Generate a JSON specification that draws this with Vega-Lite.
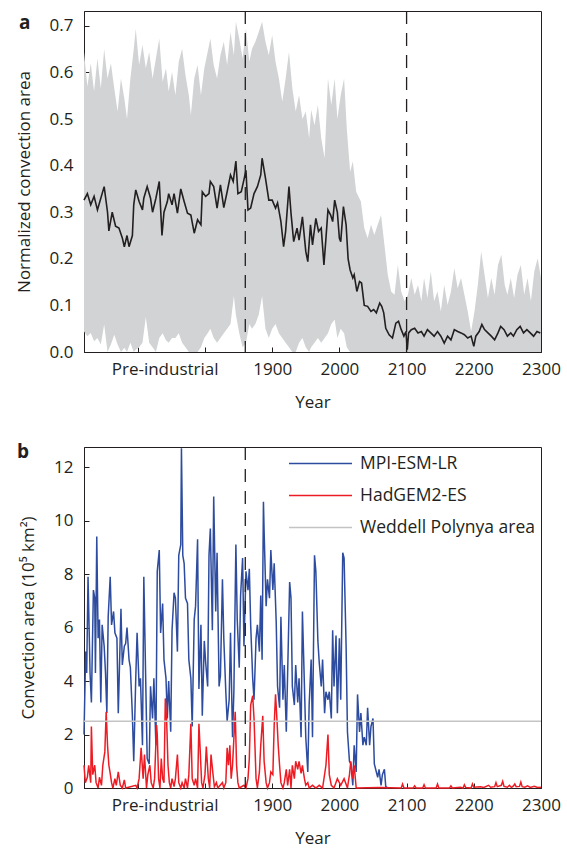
{
  "$schema": "https://vega.github.io/schema/vega-lite/v6.json",
  "background": "white",
  "padding": {"left": 14, "top": 9, "right": 5, "bottom": 0},
  "spacing": 31,
  "resolve": {"scale": {"color": "independent"}, "legend": {"color": "independent"}},
  "config": {
    "font": "Open Sans",
    "view": {"stroke": "#231f20", "strokeWidth": 1},
    "axis": {"grid": false, "labelFontSize": 17, "titleFontSize": 17, "titleFontWeight": "normal", "labelColor": "#231f20", "titleColor": "#231f20", "domainColor": "#231f20", "tickColor": "#231f20", "labelFont": "Open Sans", "titleFont": "Open Sans"}
  },
  "datasets": {
    "band": [
      {"year":1620,"lo":0.044,"hi":0.644},{"year":1625,"lo":0.034,"hi":0.57},{"year":1630,"lo":0.041,"hi":0.62},{"year":1635,"lo":0.023,"hi":0.56},{"year":1640,"lo":0.03,"hi":0.63},{"year":1645,"lo":0.016,"hi":0.566},{"year":1650,"lo":0.059,"hi":0.65},{"year":1655,"lo":0,"hi":0.587},{"year":1660,"lo":0.016,"hi":0.62},{"year":1665,"lo":0.037,"hi":0.566},{"year":1670,"lo":0.016,"hi":0.516},{"year":1675,"lo":0,"hi":0.587},{"year":1680,"lo":0.009,"hi":0.544},{"year":1684,"lo":0,"hi":0.5},{"year":1689,"lo":0.02,"hi":0.587},{"year":1694,"lo":0,"hi":0.65},{"year":1697,"lo":0.005,"hi":0.694},{"year":1702,"lo":0.01,"hi":0.616},{"year":1707,"lo":0.02,"hi":0.659},{"year":1712,"lo":0.075,"hi":0.609},{"year":1717,"lo":0.02,"hi":0.644},{"year":1722,"lo":0.01,"hi":0.587},{"year":1727,"lo":0,"hi":0.63},{"year":1732,"lo":0.03,"hi":0.673},{"year":1737,"lo":0.04,"hi":0.58},{"year":1742,"lo":0.025,"hi":0.609},{"year":1746,"lo":0.02,"hi":0.559},{"year":1751,"lo":0.03,"hi":0.601},{"year":1756,"lo":0.03,"hi":0.551},{"year":1761,"lo":0.04,"hi":0.623},{"year":1766,"lo":0.02,"hi":0.651},{"year":1771,"lo":0.01,"hi":0.594},{"year":1776,"lo":0,"hi":0.551},{"year":1779,"lo":0,"hi":0.509},{"year":1784,"lo":0,"hi":0.587},{"year":1789,"lo":0,"hi":0.616},{"year":1794,"lo":0.01,"hi":0.551},{"year":1799,"lo":0.03,"hi":0.609},{"year":1804,"lo":0.04,"hi":0.644},{"year":1808,"lo":0.05,"hi":0.673},{"year":1813,"lo":0.03,"hi":0.616},{"year":1818,"lo":0.02,"hi":0.587},{"year":1823,"lo":0.03,"hi":0.637},{"year":1828,"lo":0.04,"hi":0.666},{"year":1833,"lo":0.05,"hi":0.616},{"year":1838,"lo":0.06,"hi":0.687},{"year":1843,"lo":0.12,"hi":0.637},{"year":1846,"lo":0.08,"hi":0.709},{"year":1851,"lo":0.04,"hi":0.673},{"year":1856,"lo":0.01,"hi":0.63},{"year":1861,"lo":0.02,"hi":0.694},{"year":1866,"lo":0.06,"hi":0.623},{"year":1870,"lo":0.05,"hi":0.651},{"year":1875,"lo":0.06,"hi":0.666},{"year":1880,"lo":0.08,"hi":0.687},{"year":1885,"lo":0.12,"hi":0.709},{"year":1890,"lo":0.05,"hi":0.666},{"year":1895,"lo":0.03,"hi":0.637},{"year":1900,"lo":0.05,"hi":0.68},{"year":1905,"lo":0.06,"hi":0.623},{"year":1910,"lo":0.04,"hi":0.587},{"year":1915,"lo":0.03,"hi":0.537},{"year":1920,"lo":0.02,"hi":0.587},{"year":1925,"lo":0.01,"hi":0.644},{"year":1930,"lo":0,"hi":0.566},{"year":1935,"lo":0,"hi":0.516},{"year":1940,"lo":0.02,"hi":0.551},{"year":1945,"lo":0.03,"hi":0.5},{"year":1950,"lo":0.01,"hi":0.516},{"year":1955,"lo":0,"hi":0.459},{"year":1958,"lo":0.01,"hi":0.52},{"year":1963,"lo":0.02,"hi":0.487},{"year":1968,"lo":0.03,"hi":0.53},{"year":1973,"lo":0.02,"hi":0.459},{"year":1978,"lo":0.03,"hi":0.416},{"year":1983,"lo":0.04,"hi":0.587},{"year":1988,"lo":0.06,"hi":0.53},{"year":1993,"lo":0.07,"hi":0.587},{"year":1997,"lo":0.03,"hi":0.5},{"year":2002,"lo":0.05,"hi":0.551},{"year":2007,"lo":0.04,"hi":0.587},{"year":2011,"lo":0.01,"hi":0.48},{"year":2016,"lo":0,"hi":0.387},{"year":2020,"lo":0,"hi":0.409},{"year":2025,"lo":0,"hi":0.344},{"year":2032,"lo":0,"hi":0.323},{"year":2037,"lo":0,"hi":0.266},{"year":2042,"lo":0,"hi":0.244},{"year":2047,"lo":0,"hi":0.273},{"year":2052,"lo":0,"hi":0.251},{"year":2057,"lo":0,"hi":0.273},{"year":2062,"lo":0,"hi":0.294},{"year":2067,"lo":0,"hi":0.23},{"year":2072,"lo":0,"hi":0.166},{"year":2077,"lo":0,"hi":0.13},{"year":2082,"lo":0,"hi":0.123},{"year":2087,"lo":0,"hi":0.187},{"year":2092,"lo":0,"hi":0.13},{"year":2097,"lo":0,"hi":0.109},{"year":2102,"lo":0,"hi":0.123},{"year":2107,"lo":0,"hi":0.159},{"year":2112,"lo":0,"hi":0.123},{"year":2117,"lo":0,"hi":0.144},{"year":2122,"lo":0,"hi":0.109},{"year":2126,"lo":0,"hi":0.159},{"year":2131,"lo":0,"hi":0.116},{"year":2136,"lo":0,"hi":0.173},{"year":2141,"lo":0,"hi":0.109},{"year":2146,"lo":0,"hi":0.13},{"year":2151,"lo":0,"hi":0.087},{"year":2156,"lo":0,"hi":0.144},{"year":2161,"lo":0,"hi":0.101},{"year":2166,"lo":0,"hi":0.13},{"year":2171,"lo":0,"hi":0.18},{"year":2176,"lo":0,"hi":0.137},{"year":2181,"lo":0,"hi":0.159},{"year":2186,"lo":0,"hi":0.123},{"year":2191,"lo":0,"hi":0.087},{"year":2196,"lo":0,"hi":0.044},{"year":2201,"lo":0,"hi":0.087},{"year":2206,"lo":0,"hi":0.144},{"year":2211,"lo":0,"hi":0.216},{"year":2216,"lo":0,"hi":0.166},{"year":2221,"lo":0,"hi":0.116},{"year":2226,"lo":0,"hi":0.159},{"year":2231,"lo":0,"hi":0.123},{"year":2236,"lo":0,"hi":0.187},{"year":2241,"lo":0,"hi":0.209},{"year":2246,"lo":0,"hi":0.144},{"year":2250,"lo":0,"hi":0.123},{"year":2255,"lo":0,"hi":0.159},{"year":2260,"lo":0,"hi":0.116},{"year":2265,"lo":0,"hi":0.166},{"year":2270,"lo":0,"hi":0.187},{"year":2275,"lo":0,"hi":0.123},{"year":2280,"lo":0,"hi":0.159},{"year":2285,"lo":0,"hi":0.109},{"year":2290,"lo":0,"hi":0.173},{"year":2295,"lo":0,"hi":0.201},{"year":2300,"lo":0,"hi":0.159}
    ],
    "mean": [
      {"year":1620,"v":0.326},{"year":1625,"v":0.34},{"year":1630,"v":0.316},{"year":1635,"v":0.334},{"year":1640,"v":0.305},{"year":1645,"v":0.33},{"year":1650,"v":0.355},{"year":1655,"v":0.3},{"year":1657,"v":0.26},{"year":1662,"v":0.3},{"year":1667,"v":0.27},{"year":1672,"v":0.266},{"year":1677,"v":0.245},{"year":1680,"v":0.226},{"year":1684,"v":0.25},{"year":1687,"v":0.226},{"year":1692,"v":0.25},{"year":1694,"v":0.316},{"year":1697,"v":0.348},{"year":1702,"v":0.323},{"year":1707,"v":0.305},{"year":1709,"v":0.33},{"year":1714,"v":0.355},{"year":1719,"v":0.33},{"year":1722,"v":0.3},{"year":1727,"v":0.33},{"year":1732,"v":0.366},{"year":1736,"v":0.25},{"year":1739,"v":0.3},{"year":1744,"v":0.323},{"year":1746,"v":0.34},{"year":1751,"v":0.316},{"year":1754,"v":0.34},{"year":1759,"v":0.298},{"year":1764,"v":0.35},{"year":1769,"v":0.323},{"year":1774,"v":0.298},{"year":1779,"v":0.294},{"year":1784,"v":0.255},{"year":1789,"v":0.284},{"year":1794,"v":0.273},{"year":1796,"v":0.344},{"year":1801,"v":0.334},{"year":1806,"v":0.34},{"year":1808,"v":0.366},{"year":1813,"v":0.355},{"year":1818,"v":0.309},{"year":1823,"v":0.359},{"year":1828,"v":0.31},{"year":1833,"v":0.344},{"year":1838,"v":0.38},{"year":1842,"v":0.366},{"year":1846,"v":0.41},{"year":1849,"v":0.34},{"year":1854,"v":0.344},{"year":1858,"v":0.37},{"year":1861,"v":0.39},{"year":1864,"v":0.305},{"year":1868,"v":0.309},{"year":1873,"v":0.34},{"year":1878,"v":0.355},{"year":1883,"v":0.38},{"year":1885,"v":0.416},{"year":1890,"v":0.373},{"year":1895,"v":0.326},{"year":1900,"v":0.326},{"year":1905,"v":0.309},{"year":1908,"v":0.32},{"year":1913,"v":0.28},{"year":1917,"v":0.226},{"year":1920,"v":0.259},{"year":1925,"v":0.355},{"year":1928,"v":0.298},{"year":1932,"v":0.237},{"year":1937,"v":0.266},{"year":1940,"v":0.24},{"year":1945,"v":0.29},{"year":1950,"v":0.216},{"year":1953,"v":0.194},{"year":1957,"v":0.273},{"year":1960,"v":0.23},{"year":1965,"v":0.287},{"year":1969,"v":0.259},{"year":1973,"v":0.266},{"year":1977,"v":0.187},{"year":1980,"v":0.244},{"year":1983,"v":0.305},{"year":1987,"v":0.294},{"year":1990,"v":0.28},{"year":1993,"v":0.326},{"year":1997,"v":0.3},{"year":2000,"v":0.244},{"year":2002,"v":0.237},{"year":2006,"v":0.312},{"year":2010,"v":0.273},{"year":2013,"v":0.2},{"year":2016,"v":0.176},{"year":2020,"v":0.159},{"year":2022,"v":0.166},{"year":2026,"v":0.13},{"year":2030,"v":0.151},{"year":2033,"v":0.148},{"year":2037,"v":0.1},{"year":2042,"v":0.098},{"year":2047,"v":0.087},{"year":2051,"v":0.091},{"year":2055,"v":0.084},{"year":2060,"v":0.105},{"year":2063,"v":0.098},{"year":2066,"v":0.084},{"year":2069,"v":0.051},{"year":2074,"v":0.037},{"year":2079,"v":0.03},{"year":2084,"v":0.062},{"year":2088,"v":0.066},{"year":2092,"v":0.048},{"year":2096,"v":0.034},{"year":2099,"v":0.044},{"year":2101,"v":0.005},{"year":2103,"v":0.041},{"year":2107,"v":0.048},{"year":2112,"v":0.051},{"year":2117,"v":0.041},{"year":2122,"v":0.044},{"year":2126,"v":0.034},{"year":2131,"v":0.048},{"year":2136,"v":0.041},{"year":2141,"v":0.034},{"year":2146,"v":0.044},{"year":2151,"v":0.034},{"year":2156,"v":0.019},{"year":2161,"v":0.034},{"year":2166,"v":0.026},{"year":2171,"v":0.048},{"year":2176,"v":0.044},{"year":2181,"v":0.041},{"year":2186,"v":0.037},{"year":2191,"v":0.03},{"year":2196,"v":0.034},{"year":2200,"v":0.012},{"year":2203,"v":0.034},{"year":2208,"v":0.044},{"year":2212,"v":0.059},{"year":2216,"v":0.048},{"year":2221,"v":0.041},{"year":2226,"v":0.034},{"year":2231,"v":0.026},{"year":2236,"v":0.041},{"year":2240,"v":0.055},{"year":2245,"v":0.048},{"year":2250,"v":0.034},{"year":2255,"v":0.041},{"year":2259,"v":0.034},{"year":2264,"v":0.048},{"year":2269,"v":0.055},{"year":2274,"v":0.041},{"year":2279,"v":0.048},{"year":2284,"v":0.041},{"year":2289,"v":0.034},{"year":2294,"v":0.044},{"year":2299,"v":0.041}
    ],
    "eventsA": [{"year":1860},{"year":2100}],
    "eventsB": [{"year":1860}],
    "models": [
      {"model":"MPI-ESM-LR","year":1620,"area":2.0},{"model":"MPI-ESM-LR","year":1622.5,"area":5.1},{"model":"MPI-ESM-LR","year":1624,"area":4.3},{"model":"MPI-ESM-LR","year":1626,"area":7.9},{"model":"MPI-ESM-LR","year":1629,"area":4.3},{"model":"MPI-ESM-LR","year":1631,"area":3.2},{"model":"MPI-ESM-LR","year":1634,"area":7.4},{"model":"MPI-ESM-LR","year":1636,"area":7.1},{"model":"MPI-ESM-LR","year":1637,"area":4.3},{"model":"MPI-ESM-LR","year":1639,"area":9.4},{"model":"MPI-ESM-LR","year":1641,"area":5.6},{"model":"MPI-ESM-LR","year":1643,"area":6.3},{"model":"MPI-ESM-LR","year":1645,"area":3.2},{"model":"MPI-ESM-LR","year":1647,"area":6.1},{"model":"MPI-ESM-LR","year":1650,"area":5.3},{"model":"MPI-ESM-LR","year":1652,"area":4.3},{"model":"MPI-ESM-LR","year":1654,"area":2.8},{"model":"MPI-ESM-LR","year":1656,"area":6.4},{"model":"MPI-ESM-LR","year":1659,"area":7.9},{"model":"MPI-ESM-LR","year":1661,"area":6.1},{"model":"MPI-ESM-LR","year":1664,"area":6.6},{"model":"MPI-ESM-LR","year":1666,"area":5.8},{"model":"MPI-ESM-LR","year":1669,"area":5.6},{"model":"MPI-ESM-LR","year":1671,"area":2.8},{"model":"MPI-ESM-LR","year":1675,"area":6.7},{"model":"MPI-ESM-LR","year":1677,"area":4.6},{"model":"MPI-ESM-LR","year":1680,"area":5.3},{"model":"MPI-ESM-LR","year":1682,"area":5.4},{"model":"MPI-ESM-LR","year":1684,"area":6.0},{"model":"MPI-ESM-LR","year":1687,"area":4.8},{"model":"MPI-ESM-LR","year":1689,"area":4.5},{"model":"MPI-ESM-LR","year":1692,"area":2.7},{"model":"MPI-ESM-LR","year":1694,"area":1.0},{"model":"MPI-ESM-LR","year":1697,"area":4.1},{"model":"MPI-ESM-LR","year":1699,"area":5.8},{"model":"MPI-ESM-LR","year":1702,"area":3.8},{"model":"MPI-ESM-LR","year":1704,"area":4.1},{"model":"MPI-ESM-LR","year":1707,"area":1.6},{"model":"MPI-ESM-LR","year":1709,"area":7.9},{"model":"MPI-ESM-LR","year":1712,"area":3.8},{"model":"MPI-ESM-LR","year":1714,"area":1.1},{"model":"MPI-ESM-LR","year":1717,"area":0.9},{"model":"MPI-ESM-LR","year":1719,"area":3.8},{"model":"MPI-ESM-LR","year":1722,"area":2.6},{"model":"MPI-ESM-LR","year":1724,"area":4.1},{"model":"MPI-ESM-LR","year":1727,"area":1.6},{"model":"MPI-ESM-LR","year":1729,"area":8.1},{"model":"MPI-ESM-LR","year":1732,"area":8.9},{"model":"MPI-ESM-LR","year":1734,"area":5.8},{"model":"MPI-ESM-LR","year":1737,"area":6.9},{"model":"MPI-ESM-LR","year":1739,"area":4.8},{"model":"MPI-ESM-LR","year":1742,"area":4.1},{"model":"MPI-ESM-LR","year":1744,"area":2.6},{"model":"MPI-ESM-LR","year":1746,"area":4.0},{"model":"MPI-ESM-LR","year":1749,"area":2.1},{"model":"MPI-ESM-LR","year":1751,"area":5.9},{"model":"MPI-ESM-LR","year":1754,"area":7.3},{"model":"MPI-ESM-LR","year":1756,"area":7.1},{"model":"MPI-ESM-LR","year":1759,"area":5.1},{"model":"MPI-ESM-LR","year":1761,"area":8.7},{"model":"MPI-ESM-LR","year":1764,"area":9.1},{"model":"MPI-ESM-LR","year":1765,"area":12.7},{"model":"MPI-ESM-LR","year":1767,"area":8.7},{"model":"MPI-ESM-LR","year":1769,"area":8.4},{"model":"MPI-ESM-LR","year":1771,"area":7.1},{"model":"MPI-ESM-LR","year":1774,"area":6.9},{"model":"MPI-ESM-LR","year":1776,"area":4.8},{"model":"MPI-ESM-LR","year":1779,"area":4.1},{"model":"MPI-ESM-LR","year":1781,"area":2.3},{"model":"MPI-ESM-LR","year":1784,"area":6.3},{"model":"MPI-ESM-LR","year":1786,"area":6.8},{"model":"MPI-ESM-LR","year":1789,"area":9.3},{"model":"MPI-ESM-LR","year":1791,"area":3.7},{"model":"MPI-ESM-LR","year":1794,"area":6.1},{"model":"MPI-ESM-LR","year":1796,"area":2.7},{"model":"MPI-ESM-LR","year":1799,"area":5.5},{"model":"MPI-ESM-LR","year":1801,"area":4.7},{"model":"MPI-ESM-LR","year":1804,"area":3.8},{"model":"MPI-ESM-LR","year":1806,"area":8.7},{"model":"MPI-ESM-LR","year":1808,"area":9.7},{"model":"MPI-ESM-LR","year":1811,"area":5.9},{"model":"MPI-ESM-LR","year":1813,"area":10.9},{"model":"MPI-ESM-LR","year":1816,"area":6.6},{"model":"MPI-ESM-LR","year":1818,"area":8.8},{"model":"MPI-ESM-LR","year":1821,"area":3.8},{"model":"MPI-ESM-LR","year":1823,"area":4.2},{"model":"MPI-ESM-LR","year":1826,"area":7.8},{"model":"MPI-ESM-LR","year":1828,"area":5.6},{"model":"MPI-ESM-LR","year":1831,"area":3.6},{"model":"MPI-ESM-LR","year":1833,"area":2.5},{"model":"MPI-ESM-LR","year":1836,"area":3.3},{"model":"MPI-ESM-LR","year":1838,"area":5.8},{"model":"MPI-ESM-LR","year":1841,"area":1.9},{"model":"MPI-ESM-LR","year":1843,"area":3.6},{"model":"MPI-ESM-LR","year":1846,"area":9.1},{"model":"MPI-ESM-LR","year":1848,"area":6.3},{"model":"MPI-ESM-LR","year":1851,"area":4.5},{"model":"MPI-ESM-LR","year":1853,"area":7.2},{"model":"MPI-ESM-LR","year":1856,"area":8.6},{"model":"MPI-ESM-LR","year":1858,"area":5.3},{"model":"MPI-ESM-LR","year":1861,"area":8.1},{"model":"MPI-ESM-LR","year":1864,"area":7.4},{"model":"MPI-ESM-LR","year":1866,"area":8.2},{"model":"MPI-ESM-LR","year":1868,"area":6.1},{"model":"MPI-ESM-LR","year":1871,"area":4.1},{"model":"MPI-ESM-LR","year":1873,"area":3.3},{"model":"MPI-ESM-LR","year":1876,"area":5.6},{"model":"MPI-ESM-LR","year":1878,"area":6.1},{"model":"MPI-ESM-LR","year":1881,"area":5.1},{"model":"MPI-ESM-LR","year":1883,"area":7.2},{"model":"MPI-ESM-LR","year":1885,"area":4.8},{"model":"MPI-ESM-LR","year":1887,"area":10.7},{"model":"MPI-ESM-LR","year":1888,"area":9.6},{"model":"MPI-ESM-LR","year":1891,"area":6.8},{"model":"MPI-ESM-LR","year":1893,"area":7.8},{"model":"MPI-ESM-LR","year":1896,"area":7.1},{"model":"MPI-ESM-LR","year":1898,"area":8.9},{"model":"MPI-ESM-LR","year":1901,"area":7.4},{"model":"MPI-ESM-LR","year":1903,"area":8.4},{"model":"MPI-ESM-LR","year":1906,"area":6.2},{"model":"MPI-ESM-LR","year":1908,"area":3.8},{"model":"MPI-ESM-LR","year":1911,"area":3.0},{"model":"MPI-ESM-LR","year":1913,"area":6.4},{"model":"MPI-ESM-LR","year":1916,"area":3.3},{"model":"MPI-ESM-LR","year":1918,"area":4.6},{"model":"MPI-ESM-LR","year":1921,"area":2.1},{"model":"MPI-ESM-LR","year":1923,"area":4.3},{"model":"MPI-ESM-LR","year":1926,"area":7.7},{"model":"MPI-ESM-LR","year":1928,"area":7.1},{"model":"MPI-ESM-LR","year":1930,"area":3.8},{"model":"MPI-ESM-LR","year":1933,"area":3.1},{"model":"MPI-ESM-LR","year":1935,"area":4.6},{"model":"MPI-ESM-LR","year":1938,"area":3.2},{"model":"MPI-ESM-LR","year":1940,"area":4.1},{"model":"MPI-ESM-LR","year":1943,"area":1.9},{"model":"MPI-ESM-LR","year":1945,"area":6.6},{"model":"MPI-ESM-LR","year":1948,"area":3.8},{"model":"MPI-ESM-LR","year":1950,"area":1.9},{"model":"MPI-ESM-LR","year":1953,"area":0.6},{"model":"MPI-ESM-LR","year":1955,"area":3.1},{"model":"MPI-ESM-LR","year":1958,"area":4.8},{"model":"MPI-ESM-LR","year":1960,"area":1.9},{"model":"MPI-ESM-LR","year":1963,"area":8.7},{"model":"MPI-ESM-LR","year":1965,"area":8.1},{"model":"MPI-ESM-LR","year":1968,"area":5.5},{"model":"MPI-ESM-LR","year":1970,"area":4.7},{"model":"MPI-ESM-LR","year":1973,"area":3.8},{"model":"MPI-ESM-LR","year":1975,"area":4.8},{"model":"MPI-ESM-LR","year":1978,"area":2.8},{"model":"MPI-ESM-LR","year":1980,"area":3.6},{"model":"MPI-ESM-LR","year":1983,"area":3.3},{"model":"MPI-ESM-LR","year":1985,"area":3.6},{"model":"MPI-ESM-LR","year":1988,"area":2.6},{"model":"MPI-ESM-LR","year":1990,"area":5.9},{"model":"MPI-ESM-LR","year":1992,"area":3.8},{"model":"MPI-ESM-LR","year":1995,"area":5.7},{"model":"MPI-ESM-LR","year":1997,"area":2.8},{"model":"MPI-ESM-LR","year":2000,"area":5.6},{"model":"MPI-ESM-LR","year":2002,"area":3.3},{"model":"MPI-ESM-LR","year":2005,"area":8.8},{"model":"MPI-ESM-LR","year":2007,"area":8.6},{"model":"MPI-ESM-LR","year":2010,"area":5.3},{"model":"MPI-ESM-LR","year":2012,"area":2.1},{"model":"MPI-ESM-LR","year":2015,"area":1.0},{"model":"MPI-ESM-LR","year":2017,"area":0.9},{"model":"MPI-ESM-LR","year":2020,"area":0.1},{"model":"MPI-ESM-LR","year":2022,"area":1.6},{"model":"MPI-ESM-LR","year":2025,"area":0.6},{"model":"MPI-ESM-LR","year":2027,"area":3.5},{"model":"MPI-ESM-LR","year":2030,"area":2.1},{"model":"MPI-ESM-LR","year":2032,"area":2.8},{"model":"MPI-ESM-LR","year":2035,"area":1.6},{"model":"MPI-ESM-LR","year":2037,"area":1.9},{"model":"MPI-ESM-LR","year":2040,"area":1.6},{"model":"MPI-ESM-LR","year":2042,"area":3.0},{"model":"MPI-ESM-LR","year":2045,"area":1.6},{"model":"MPI-ESM-LR","year":2047,"area":2.3},{"model":"MPI-ESM-LR","year":2050,"area":2.6},{"model":"MPI-ESM-LR","year":2052,"area":0.9},{"model":"MPI-ESM-LR","year":2055,"area":0.6},{"model":"MPI-ESM-LR","year":2057,"area":0.4},{"model":"MPI-ESM-LR","year":2059,"area":0.7},{"model":"MPI-ESM-LR","year":2062,"area":0.1},{"model":"MPI-ESM-LR","year":2064,"area":0.5},{"model":"MPI-ESM-LR","year":2067,"area":0.7},{"model":"MPI-ESM-LR","year":2069,"area":0.05},{"model":"MPI-ESM-LR","year":2072,"area":0},
      {"model":"HadGEM2-ES","year":1620,"area":0.85},{"model":"HadGEM2-ES","year":1622,"area":0.2},{"model":"HadGEM2-ES","year":1625,"area":0.4},{"model":"HadGEM2-ES","year":1627,"area":0.85},{"model":"HadGEM2-ES","year":1630,"area":0.2},{"model":"HadGEM2-ES","year":1631,"area":2.3},{"model":"HadGEM2-ES","year":1633,"area":0.5},{"model":"HadGEM2-ES","year":1636,"area":0.85},{"model":"HadGEM2-ES","year":1638,"area":0.2},{"model":"HadGEM2-ES","year":1641,"area":0},{"model":"HadGEM2-ES","year":1643,"area":0.4},{"model":"HadGEM2-ES","year":1646,"area":0.1},{"model":"HadGEM2-ES","year":1648,"area":0.85},{"model":"HadGEM2-ES","year":1651,"area":1.35},{"model":"HadGEM2-ES","year":1653,"area":2.85},{"model":"HadGEM2-ES","year":1655,"area":1.6},{"model":"HadGEM2-ES","year":1657,"area":0.85},{"model":"HadGEM2-ES","year":1659,"area":0.55},{"model":"HadGEM2-ES","year":1661,"area":0.2},{"model":"HadGEM2-ES","year":1663,"area":0},{"model":"HadGEM2-ES","year":1666,"area":0.35},{"model":"HadGEM2-ES","year":1668,"area":0.1},{"model":"HadGEM2-ES","year":1671,"area":0.6},{"model":"HadGEM2-ES","year":1674,"area":0.1},{"model":"HadGEM2-ES","year":1677,"area":0},{"model":"HadGEM2-ES","year":1680,"area":0.3},{"model":"HadGEM2-ES","year":1682,"area":0},{"model":"HadGEM2-ES","year":1697,"area":0.1},{"model":"HadGEM2-ES","year":1699,"area":0},{"model":"HadGEM2-ES","year":1702,"area":0.35},{"model":"HadGEM2-ES","year":1705,"area":1.5},{"model":"HadGEM2-ES","year":1708,"area":0.35},{"model":"HadGEM2-ES","year":1710,"area":1.25},{"model":"HadGEM2-ES","year":1713,"area":0},{"model":"HadGEM2-ES","year":1715,"area":0.5},{"model":"HadGEM2-ES","year":1718,"area":0.85},{"model":"HadGEM2-ES","year":1720,"area":0.2},{"model":"HadGEM2-ES","year":1723,"area":0},{"model":"HadGEM2-ES","year":1725,"area":0.35},{"model":"HadGEM2-ES","year":1728,"area":2.35},{"model":"HadGEM2-ES","year":1729,"area":2.0},{"model":"HadGEM2-ES","year":1731,"area":0.35},{"model":"HadGEM2-ES","year":1733,"area":0},{"model":"HadGEM2-ES","year":1735,"area":1.1},{"model":"HadGEM2-ES","year":1737,"area":0.35},{"model":"HadGEM2-ES","year":1739,"area":0.2},{"model":"HadGEM2-ES","year":1741,"area":3.35},{"model":"HadGEM2-ES","year":1743,"area":2.5},{"model":"HadGEM2-ES","year":1745,"area":0.85},{"model":"HadGEM2-ES","year":1747,"area":0.2},{"model":"HadGEM2-ES","year":1749,"area":0},{"model":"HadGEM2-ES","year":1751,"area":0.35},{"model":"HadGEM2-ES","year":1754,"area":0.05},{"model":"HadGEM2-ES","year":1756,"area":0.35},{"model":"HadGEM2-ES","year":1759,"area":1.25},{"model":"HadGEM2-ES","year":1761,"area":0.2},{"model":"HadGEM2-ES","year":1764,"area":0},{"model":"HadGEM2-ES","year":1766,"area":0.2},{"model":"HadGEM2-ES","year":1769,"area":0},{"model":"HadGEM2-ES","year":1771,"area":0.35},{"model":"HadGEM2-ES","year":1774,"area":0},{"model":"HadGEM2-ES","year":1776,"area":0.5},{"model":"HadGEM2-ES","year":1779,"area":2.4},{"model":"HadGEM2-ES","year":1781,"area":0.35},{"model":"HadGEM2-ES","year":1784,"area":0.1},{"model":"HadGEM2-ES","year":1786,"area":0.35},{"model":"HadGEM2-ES","year":1789,"area":0},{"model":"HadGEM2-ES","year":1791,"area":2.4},{"model":"HadGEM2-ES","year":1793,"area":1.35},{"model":"HadGEM2-ES","year":1795,"area":0.2},{"model":"HadGEM2-ES","year":1797,"area":0},{"model":"HadGEM2-ES","year":1800,"area":0.5},{"model":"HadGEM2-ES","year":1802,"area":1.55},{"model":"HadGEM2-ES","year":1805,"area":0.35},{"model":"HadGEM2-ES","year":1807,"area":0},{"model":"HadGEM2-ES","year":1809,"area":1.25},{"model":"HadGEM2-ES","year":1812,"area":0.5},{"model":"HadGEM2-ES","year":1814,"area":0.05},{"model":"HadGEM2-ES","year":1817,"area":0.2},{"model":"HadGEM2-ES","year":1819,"area":0},{"model":"HadGEM2-ES","year":1826,"area":0.2},{"model":"HadGEM2-ES","year":1828,"area":0},{"model":"HadGEM2-ES","year":1831,"area":0.2},{"model":"HadGEM2-ES","year":1833,"area":1.5},{"model":"HadGEM2-ES","year":1835,"area":0.85},{"model":"HadGEM2-ES","year":1837,"area":1.6},{"model":"HadGEM2-ES","year":1839,"area":0.35},{"model":"HadGEM2-ES","year":1841,"area":0.85},{"model":"HadGEM2-ES","year":1843,"area":1.85},{"model":"HadGEM2-ES","year":1845,"area":2.85},{"model":"HadGEM2-ES","year":1847,"area":0.85},{"model":"HadGEM2-ES","year":1849,"area":0.2},{"model":"HadGEM2-ES","year":1851,"area":0},{"model":"HadGEM2-ES","year":1858,"area":0.1},{"model":"HadGEM2-ES","year":1861,"area":0},{"model":"HadGEM2-ES","year":1864,"area":0.35},{"model":"HadGEM2-ES","year":1866,"area":1.1},{"model":"HadGEM2-ES","year":1868,"area":3.1},{"model":"HadGEM2-ES","year":1871,"area":3.45},{"model":"HadGEM2-ES","year":1873,"area":2.6},{"model":"HadGEM2-ES","year":1876,"area":0.35},{"model":"HadGEM2-ES","year":1878,"area":0},{"model":"HadGEM2-ES","year":1881,"area":0.6},{"model":"HadGEM2-ES","year":1883,"area":1.6},{"model":"HadGEM2-ES","year":1886,"area":2.7},{"model":"HadGEM2-ES","year":1888,"area":1.0},{"model":"HadGEM2-ES","year":1891,"area":0.2},{"model":"HadGEM2-ES","year":1893,"area":0},{"model":"HadGEM2-ES","year":1896,"area":0.2},{"model":"HadGEM2-ES","year":1898,"area":0.6},{"model":"HadGEM2-ES","year":1901,"area":0.5},{"model":"HadGEM2-ES","year":1903,"area":2.35},{"model":"HadGEM2-ES","year":1905,"area":3.5},{"model":"HadGEM2-ES","year":1907,"area":2.6},{"model":"HadGEM2-ES","year":1909,"area":1.6},{"model":"HadGEM2-ES","year":1911,"area":0.85},{"model":"HadGEM2-ES","year":1913,"area":0.2},{"model":"HadGEM2-ES","year":1916,"area":0},{"model":"HadGEM2-ES","year":1918,"area":0.2},{"model":"HadGEM2-ES","year":1921,"area":0.7},{"model":"HadGEM2-ES","year":1923,"area":0.1},{"model":"HadGEM2-ES","year":1926,"area":0.7},{"model":"HadGEM2-ES","year":1928,"area":0},{"model":"HadGEM2-ES","year":1930,"area":0.85},{"model":"HadGEM2-ES","year":1933,"area":0.35},{"model":"HadGEM2-ES","year":1935,"area":1.0},{"model":"HadGEM2-ES","year":1938,"area":0.7},{"model":"HadGEM2-ES","year":1940,"area":1.0},{"model":"HadGEM2-ES","year":1943,"area":0.55},{"model":"HadGEM2-ES","year":1945,"area":0.85},{"model":"HadGEM2-ES","year":1948,"area":0.35},{"model":"HadGEM2-ES","year":1950,"area":0.1},{"model":"HadGEM2-ES","year":1953,"area":0.2},{"model":"HadGEM2-ES","year":1955,"area":0},{"model":"HadGEM2-ES","year":1960,"area":0.1},{"model":"HadGEM2-ES","year":1965,"area":0},{"model":"HadGEM2-ES","year":1970,"area":0.1},{"model":"HadGEM2-ES","year":1975,"area":0},{"model":"HadGEM2-ES","year":1980,"area":0.85},{"model":"HadGEM2-ES","year":1983,"area":2.0},{"model":"HadGEM2-ES","year":1985,"area":0.5},{"model":"HadGEM2-ES","year":1988,"area":0.1},{"model":"HadGEM2-ES","year":1992,"area":0},{"model":"HadGEM2-ES","year":1997,"area":0.35},{"model":"HadGEM2-ES","year":2002,"area":0.1},{"model":"HadGEM2-ES","year":2007,"area":0.35},{"model":"HadGEM2-ES","year":2012,"area":0},{"model":"HadGEM2-ES","year":2015,"area":0.5},{"model":"HadGEM2-ES","year":2017,"area":1.0},{"model":"HadGEM2-ES","year":2020,"area":0.35},{"model":"HadGEM2-ES","year":2022,"area":0.85},{"model":"HadGEM2-ES","year":2025,"area":0},{"model":"HadGEM2-ES","year":2060,"area":0.02},{"model":"HadGEM2-ES","year":2092,"area":0},{"model":"HadGEM2-ES","year":2094,"area":0.15},{"model":"HadGEM2-ES","year":2096,"area":0},{"model":"HadGEM2-ES","year":2110,"area":0},{"model":"HadGEM2-ES","year":2112,"area":0.08},{"model":"HadGEM2-ES","year":2114,"area":0},{"model":"HadGEM2-ES","year":2124,"area":0},{"model":"HadGEM2-ES","year":2126,"area":0.12},{"model":"HadGEM2-ES","year":2128,"area":0},{"model":"HadGEM2-ES","year":2144,"area":0},{"model":"HadGEM2-ES","year":2146,"area":0.15},{"model":"HadGEM2-ES","year":2148,"area":0},{"model":"HadGEM2-ES","year":2164,"area":0},{"model":"HadGEM2-ES","year":2166,"area":0.08},{"model":"HadGEM2-ES","year":2168,"area":0},{"model":"HadGEM2-ES","year":2180,"area":0.03},{"model":"HadGEM2-ES","year":2184,"area":0},{"model":"HadGEM2-ES","year":2186,"area":0.12},{"model":"HadGEM2-ES","year":2188,"area":0.02},{"model":"HadGEM2-ES","year":2196,"area":0},{"model":"HadGEM2-ES","year":2198,"area":0.15},{"model":"HadGEM2-ES","year":2200,"area":0.03},{"model":"HadGEM2-ES","year":2210,"area":0.05},{"model":"HadGEM2-ES","year":2215,"area":0.02},{"model":"HadGEM2-ES","year":2222,"area":0.1},{"model":"HadGEM2-ES","year":2225,"area":0.03},{"model":"HadGEM2-ES","year":2231,"area":0.05},{"model":"HadGEM2-ES","year":2233,"area":0.2},{"model":"HadGEM2-ES","year":2235,"area":0.05},{"model":"HadGEM2-ES","year":2241,"area":0.1},{"model":"HadGEM2-ES","year":2243,"area":0.25},{"model":"HadGEM2-ES","year":2245,"area":0.06},{"model":"HadGEM2-ES","year":2250,"area":0.03},{"model":"HadGEM2-ES","year":2253,"area":0.1},{"model":"HadGEM2-ES","year":2256,"area":0.02},{"model":"HadGEM2-ES","year":2259,"area":0.08},{"model":"HadGEM2-ES","year":2261,"area":0.15},{"model":"HadGEM2-ES","year":2263,"area":0.05},{"model":"HadGEM2-ES","year":2268,"area":0.06},{"model":"HadGEM2-ES","year":2270,"area":0.22},{"model":"HadGEM2-ES","year":2272,"area":0.05},{"model":"HadGEM2-ES","year":2276,"area":0.03},{"model":"HadGEM2-ES","year":2280,"area":0.08},{"model":"HadGEM2-ES","year":2284,"area":0.02},{"model":"HadGEM2-ES","year":2290,"area":0.06},{"model":"HadGEM2-ES","year":2295,"area":0.02},{"model":"HadGEM2-ES","year":2300,"area":0.03},
      {"model":"Weddell Polynya area","year":1620,"area":2.5},{"model":"Weddell Polynya area","year":2300,"area":2.5}
    ]
  },
  "vconcat": [
    {
      "width": 457,
      "height": 341,
      "title": {"text": "a", "anchor": "start", "frame": "group", "orient": "top", "offset": 0, "dx": -65, "dy": 23, "fontSize": 19, "fontWeight": "bold", "font": "Open Sans", "color": "#231f20"},
      "layer": [
        {
          "data": {"name": "band"},
          "mark": {"type": "area", "color": "#d1d3d4"},
          "encoding": {
            "x": {"field": "year", "type": "quantitative", "scale": {"domain": [1620, 2300], "nice": false, "zero": false},
                  "axis": {"orient": "bottom", "values": [1700, 1800, 1900, 2000, 2100, 2200, 2300], "labels": false, "tickSize": -5, "title": null}},
            "y": {"field": "hi", "type": "quantitative", "scale": {"domain": [0, 0.732], "nice": false},
                  "axis": {"values": [0, 0.1, 0.2, 0.3, 0.4, 0.5, 0.6, 0.7], "format": ".1f", "title": "Normalized convection area", "tickSize": -5, "labelPadding": 16, "titlePadding": 16}},
            "y2": {"field": "lo"}
          }
        },
        {
          "data": {"name": "eventsA"},
          "mark": {"type": "rule", "strokeDash": [13, 9], "color": "#231f20", "strokeWidth": 1.3},
          "encoding": {
            "x": {"field": "year", "type": "quantitative",
                  "axis": {"orient": "bottom", "values": [1740, 1900, 2000, 2100, 2200, 2300], "ticks": false, "domain": false, "format": "d", "labelExpr": "datum.value == 1740 ? 'Pre-industrial' : datum.label", "labelPadding": 9, "labelFlush": false, "title": "Year", "titlePadding": 17}}
          }
        },
        {
          "data": {"name": "mean"},
          "mark": {"type": "line", "color": "#231f20", "strokeWidth": 1.6},
          "encoding": {
            "x": {"field": "year", "type": "quantitative", "axis": null},
            "y": {"field": "v", "type": "quantitative",
                  "axis": {"values": [0, 0.1, 0.2, 0.3, 0.4, 0.5, 0.6, 0.7], "format": ".1f", "title": "Normalized convection area", "tickSize": -5, "labelPadding": 16, "titlePadding": 16}}
          }
        }
      ],
      "resolve": {"axis": {"x": "independent"}}
    },
    {
      "width": 457,
      "height": 341,
      "title": {"text": "b", "anchor": "start", "frame": "group", "orient": "top", "offset": 0, "dx": -67, "dy": 17, "fontSize": 19, "fontWeight": "bold", "font": "Open Sans", "color": "#231f20"},
      "layer": [
        {
          "data": {"name": "models"},
          "mark": {"type": "line", "strokeWidth": 1.5},
          "encoding": {
            "x": {"field": "year", "type": "quantitative", "scale": {"domain": [1620, 2300], "nice": false, "zero": false},
                  "axis": {"orient": "bottom", "values": [1700, 1800, 1900, 2000, 2100, 2200, 2300], "labels": false, "tickSize": -5, "title": null}},
            "y": {"field": "area", "type": "quantitative", "scale": {"domain": [0, 12.75], "nice": false},
                  "axis": {"values": [0, 2, 4, 6, 8, 10, 12], "format": "d", "title": "Convection area (10⁵ km²)", "tickSize": -5, "labelPadding": 16, "titlePadding": 16}},
            "color": {"field": "model", "type": "nominal",
                      "scale": {"domain": ["MPI-ESM-LR", "HadGEM2-ES", "Weddell Polynya area"], "range": ["#2d4c9f", "#ed1c24", "#c4c4c4"]},
                      "legend": {"title": null, "orient": "top-right", "offset": 5, "padding": 0, "symbolType": "M-3,0H3", "symbolSize": 441, "symbolOffset": 56, "symbolStrokeWidth": 1.6, "labelFontSize": 17.5, "labelFont": "Open Sans", "labelColor": "#231f20", "labelOffset": 28, "rowPadding": 12, "labelLimit": 300}}
          }
        },
        {
          "data": {"name": "eventsB"},
          "mark": {"type": "rule", "strokeDash": [13, 9], "color": "#231f20", "strokeWidth": 1.3},
          "encoding": {
            "x": {"field": "year", "type": "quantitative",
                  "axis": {"orient": "bottom", "values": [1740, 1900, 2000, 2100, 2200, 2300], "ticks": false, "domain": false, "format": "d", "labelExpr": "datum.value == 1740 ? 'Pre-industrial' : datum.label", "labelPadding": 9, "labelFlush": false, "title": "Year", "titlePadding": 17}}
          }
        }
      ],
      "resolve": {"axis": {"x": "independent"}}
    }
  ]
}
